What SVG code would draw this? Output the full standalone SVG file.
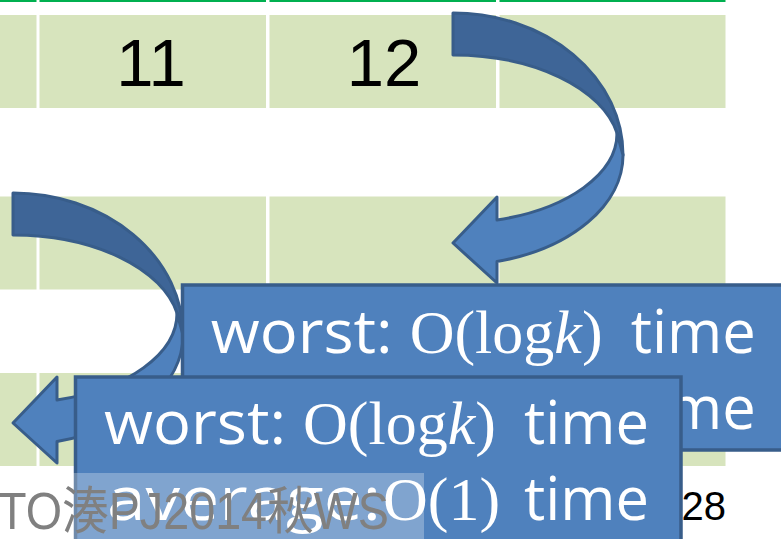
<svg xmlns="http://www.w3.org/2000/svg" xmlns:xlink="http://www.w3.org/1999/xlink" width="781" height="539" viewBox="0 0 781 539">
  <style>
    .rule { fill: #00b050; }
    .cell { fill: #d7e4bd; }
    .num { font-family: "Liberation Sans", Arial, sans-serif; font-size: 67px; fill: #000; text-anchor: middle; }
    .back { fill: #3e6597; stroke: #385d8a; stroke-width: 3; stroke-linejoin: round; }
    .front { fill: #4f81bd; stroke: #385d8a; stroke-width: 3; stroke-linejoin: round; }
    .box { fill: #4f81bd; stroke: #385d8a; stroke-width: 3.5; }
    .label { font-family: "Open Sans", "DejaVu Sans", sans-serif; font-size: 60px; fill: #ffffff; }
    .math { font-family: "Liberation Serif", "Times New Roman", serif; font-size: 62px; fill: #ffffff; }
    .footer { font-family: "Liberation Sans", Arial, "Noto Sans CJK JP", sans-serif; font-size: 51px; fill: #808080; }
    .page { font-family: "Liberation Sans", Arial, sans-serif; font-size: 40px; fill: #000; text-anchor: end; }
  </style>
  <defs>
    <!-- curved U-turn arrow: back band (darker) and front band with head -->
    <g id="uturn">
      <path class="back" d="M453,13 A170,142 0 0,1 623,155 L617,133 A167,96 0 0,0 453,55 Z"/>
      <path class="front" d="M623,155 A170,110 0 0,1 497,261.5 L497,283 L453,243 L497,197 L497,220 A164,90 0 0,0 617,133 Z"/>
    </g>
  </defs>

  <rect width="781" height="539" fill="#ffffff"/>

  <!-- table -->
  <g id="table">
    <rect class="rule" x="0" y="0" width="36.5" height="2"/>
    <rect class="rule" x="39.5" y="0" width="226.5" height="2"/>
    <rect class="rule" x="269.5" y="0" width="226.5" height="2"/>
    <rect class="rule" x="499.5" y="0" width="226" height="2"/>

    <rect class="cell" x="0" y="15" width="36.5" height="93"/>
    <rect class="cell" x="39.5" y="15" width="226.5" height="93"/>
    <rect class="cell" x="269.5" y="15" width="226.5" height="93"/>
    <rect class="cell" x="499.5" y="15" width="226" height="93"/>

    <rect class="cell" x="0" y="196.5" width="36.5" height="93"/>
    <rect class="cell" x="39.5" y="196.5" width="226.5" height="93"/>
    <rect class="cell" x="269.5" y="196.5" width="226.5" height="93"/>
    <rect class="cell" x="499.5" y="196.5" width="226" height="93"/>

    <rect class="cell" x="0" y="373" width="36.5" height="93"/>
    <rect class="cell" x="39.5" y="373" width="226.5" height="93"/>
    <rect class="cell" x="269.5" y="373" width="226.5" height="93"/>
    <rect class="cell" x="499.5" y="373" width="226" height="93"/>

    <text class="num" x="151" y="86">11</text>
    <text class="num" x="384" y="86">12</text>
  </g>

  <text id="page-number" class="page" x="726" y="520">28</text>

  <!-- arrows -->
  <g id="connectors">
    <use id="arrow-upper" href="#uturn" xlink:href="#uturn"/>
    <use id="arrow-lower" href="#uturn" xlink:href="#uturn" transform="translate(-440,180)"/>
  </g>

  <!-- callout boxes -->
  <g id="box-upper">
    <rect class="box" x="182.5" y="285" width="620" height="165"/>
    <text class="label" x="210.7" y="353" textLength="182" lengthAdjust="spacingAndGlyphs">worst:</text>
    <text class="math" x="409.7" y="353">O(log<tspan font-style="italic">k</tspan>)</text>
    <text class="label" x="630.7" y="353" textLength="125" lengthAdjust="spacingAndGlyphs">time</text>
    <text class="label" x="213.7" y="429" textLength="274" lengthAdjust="spacingAndGlyphs">average:</text>
    <text class="math" x="489.7" y="429">O(1)</text>
    <text class="label" x="630.7" y="429" textLength="125" lengthAdjust="spacingAndGlyphs">time</text>
  </g>

  <g id="box-lower">
    <rect class="box" x="75.5" y="377" width="605.5" height="200"/>
    <text class="label" x="104" y="444" textLength="182" lengthAdjust="spacingAndGlyphs">worst:</text>
    <text class="math" x="303" y="444">O(log<tspan font-style="italic">k</tspan>)</text>
    <text class="label" x="524" y="444" textLength="125" lengthAdjust="spacingAndGlyphs">time</text>
    <text class="label" x="107" y="520" textLength="274" lengthAdjust="spacingAndGlyphs">average:</text>
    <text class="math" x="383" y="520">O(1)</text>
    <text class="label" x="524" y="520" textLength="125" lengthAdjust="spacingAndGlyphs">time</text>
  </g>

  <!-- footer with translucent backing -->
  <g id="footer">
    <rect x="0" y="473" width="424" height="66" fill="#ffffff" fill-opacity="0.28"/>
    <text class="footer" x="-2" y="529" textLength="391" lengthAdjust="spacingAndGlyphs">TO湊PJ2014秋WS</text>
  </g>
</svg>
